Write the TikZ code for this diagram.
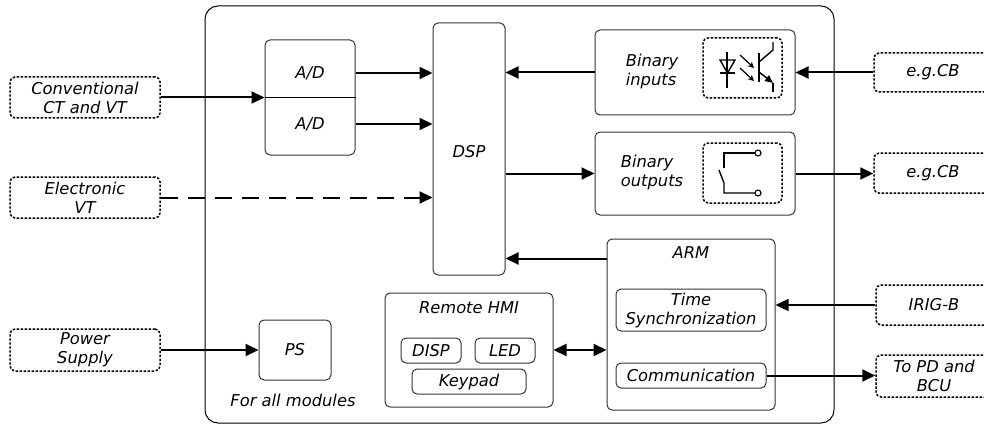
\documentclass[tikz,border=0pt]{standalone}
\usepackage{fontspec}
\setmainfont{DejaVu Sans}
\usetikzlibrary{arrows.meta}
\begin{document}
\begin{tikzpicture}[x=1pt,y=-1pt,
  font=\fontsize{16.3}{19}\selectfont\itshape,
  box/.style={draw=black!80, line width=1pt, rounded corners=5pt, inner sep=0pt},
  dbox/.style={draw, line width=1.5pt, dash pattern=on 2.4pt off 1.6pt, rounded corners=5pt, inner sep=0pt, align=center},
  lbl/.style={inner sep=0pt, align=center},
  arr/.style={line width=2pt, -{Triangle[length=13pt,width=12pt]}},
  sym/.style={line width=1.4pt}]
\useasboundingbox (0,0) rectangle (984,425);
\clip (0,0) rectangle (984,425);
% outer frame
\node[draw, line width=1pt, rounded corners=13pt, minimum width=629pt, minimum height=417pt, inner sep=0pt] (outer) at (519.5,214.5) {};
% internal blocks
\node[box, minimum width=90pt, minimum height=115pt] (ad) at (310,97.5) {};
\draw[line width=1pt] (ad.west) -- (ad.east);
\node[lbl] (ad1) at (310,73) {A/D};
\node[lbl] (ad2) at (310,124) {A/D};
\node[box, minimum width=72pt, minimum height=252pt] (dsp) at (469,149) {};
\node[lbl] (dsplbl) at (469,152) {DSP};
\node[box, minimum width=200pt, minimum height=85pt] (bin) at (695,72.5) {};
\node[lbl, align=left] (binlbl) at (652,72) {Binary\\inputs};
\node[dbox, minimum width=79pt, minimum height=60pt] (optobox) at (742.5,68) {};
\node[box, minimum width=200pt, minimum height=83pt] (bout) at (695,173.5) {};
\node[lbl, align=left] (boutlbl) at (652,173) {Binary\\outputs};
\node[dbox, minimum width=79pt, minimum height=60pt] (relaybox) at (742.5,173) {};
\node[box, minimum width=168pt, minimum height=171pt] (arm) at (691,324.5) {};
\node[lbl] (armlbl) at (691,253) {ARM};
\node[box, minimum width=150pt, minimum height=42pt] (ts) at (691,310) {};
\node[lbl] (tslbl) at (691,310) {Time\\Synchronization};
\node[box, minimum width=150pt, minimum height=25pt] (comm) at (691,375.5) {Communication};
\node[box, minimum width=168pt, minimum height=114pt] (hmi) at (469,350) {};
\node[lbl] (hmilbl) at (469,308) {Remote HMI};
\node[box, minimum width=60pt, minimum height=25pt] (disp) at (431,350.5) {DISP};
\node[box, minimum width=60pt, minimum height=25pt] (led) at (505,350.5) {LED};
\node[box, minimum width=114pt, minimum height=25pt] (key) at (469,381.5) {Keypad};
\node[box, minimum width=72pt, minimum height=60pt] (ps) at (295,350) {PS};
\node[lbl] (pslbl) at (293,400) {For all modules};
% external blocks
\node[dbox, minimum width=150pt, minimum height=41pt] (conv) at (85,97.5) {Conventional\\CT and VT};
\node[dbox, minimum width=150pt, minimum height=41pt] (elec) at (85,197.5) {Electronic\\VT};
\node[dbox, minimum width=150pt, minimum height=42pt] (pow) at (85,350) {Power\\Supply};
\node[dbox, minimum width=118pt, minimum height=39pt] (cb1) at (933,72.5) {e.g.CB};
\node[dbox, minimum width=118pt, minimum height=40pt] (cb2) at (933,173) {e.g.CB};
\node[dbox, minimum width=116pt, minimum height=40pt] (irig) at (934,305) {IRIG-B};
\node[dbox, minimum width=116pt, minimum height=42pt] (topd) at (934,376) {To PD and\\BCU};
% connectors
\draw[arr] (conv.east) -- (ad.west);
\draw[arr] (ad.east |- ad1) -- (dsp.west |- ad1);
\draw[arr] (ad.east |- ad2) -- (dsp.west |- ad2);
\draw[arr, dash pattern=on 17pt off 10pt] (elec.east) -- (elec.east -| dsp.west);
\draw[arr] (bin.west) -- (bin.west -| dsp.east);
\draw[arr] (cb1.west) -- (bin.east);
\draw[arr] (dsp.east |- bout.west) -- (bout.west);
\draw[arr] (bout.east) -- (bout.east -| cb2.west);
\coordinate (armout) at ([yshift=-20pt]arm.north west);
\draw[arr] (armout) -- (armout -| dsp.east);
\draw[arr, line width=1.2pt] (irig.west) -- (irig.west -| arm.east);
\draw[arr] (comm.east) -- (comm.east -| topd.west);
\draw[line width=2pt, {Triangle[length=13pt,width=12pt]}-{Triangle[length=13pt,width=12pt]}] (hmi.east) -- (hmi.east -| arm.west);
\draw[arr] (pow.east) -- (ps.west);
% optocoupler symbol
\draw[sym] (727,52) -- (727,88);
\draw[sym] (720,60) -- (735,60) -- (727.5,73) -- cycle;
\draw[sym] (720,73) -- (735,73);
\draw[line width=1.2pt, -{Stealth[length=6pt,width=6pt]}] (740,55) -- (754,68);
\draw[line width=1.2pt, -{Stealth[length=6pt,width=6pt]}] (740,68) -- (754,81);
\draw[sym] (759,53) -- (759,82);
\draw[sym] (759,62) -- (773,50) -- (773,42);
\draw[sym, -{Triangle[length=8pt,width=7pt]}] (759,72) -- (773,83);
\draw[sym] (773,83) -- (773,92);
% relay contact symbol
\draw[sym] (755,153) -- (724,153) -- (724,168);
\draw[sym] (719,170) -- (724,183) -- (724,193) -- (755,193);
\draw[line width=1.1pt, fill=white] (758,153) circle (3pt);
\draw[line width=1.1pt, fill=white] (758,193) circle (3pt);
\end{tikzpicture}
\end{document}
